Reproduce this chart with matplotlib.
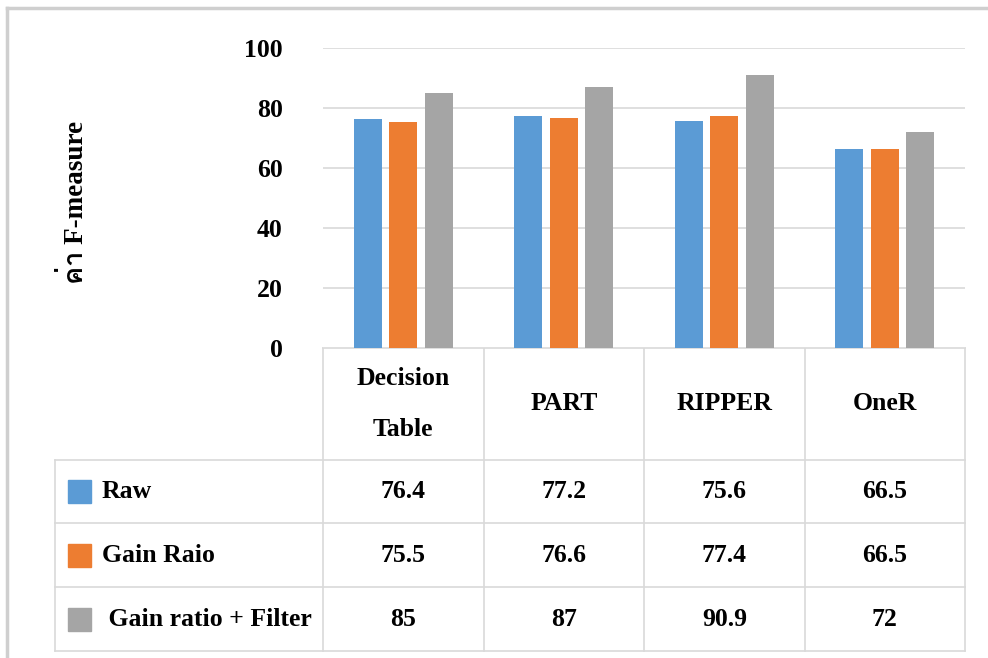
import matplotlib
matplotlib.use("Agg")
import matplotlib.pyplot as plt
from matplotlib import font_manager, ft2font
from matplotlib.patches import Rectangle
import numpy as np

categories = ["Decision\nTable", "PART", "RIPPER", "OneR"]
series_names = ["Raw", "Gain Raio", " Gain ratio + Filter"]
raw = [76.4, 77.2, 75.6, 66.5]
gain_raio = [75.5, 76.6, 77.4, 66.5]
gain_filter = [85, 87, 90.9, 72]
raw_labels = ["76.4", "77.2", "75.6", "66.5"]
gain_raio_labels = ["75.5", "76.6", "77.4", "66.5"]
gain_filter_labels = ["85", "87", "90.9", "72"]
yticks = [0, 20, 40, 60, 80, 100]
ylabel = "ค่า F-measure"

colors = ["#5B9BD5", "#ED7D31", "#A5A5A5"]
grid_c = "#D9D9D9"
serif = "Liberation Serif"

# find a font with Thai glyphs
thai_family = None
for f in font_manager.fontManager.ttflist:
    try:
        cm = ft2font.FT2Font(f.fname).get_charmap()
        if 0x0E04 in cm and 0x0E48 in cm:
            thai_family = f.name
            break
    except Exception:
        pass
label_family = [serif] + ([thai_family] if thai_family else []) + ["DejaVu Sans"]

W, H = 988, 658
fig = plt.figure(figsize=(W / 100, H / 100), dpi=100)

# pixel layout
x0, x1 = 323, 965
y_top, y_bot = 48, 348
tbl_left = 55
row_lines = [348, 460, 523, 587, 651]
fs = 18.5

ax = fig.add_axes([x0 / W, 1 - y_bot / H, (x1 - x0) / W, (y_bot - y_top) / H])
n = len(categories)
x = np.arange(n)
bw = 0.175
step = 0.22
series = [raw, gain_raio, gain_filter]
for i, (vals, c) in enumerate(zip(series, colors)):
    ax.bar(x + (i - 1) * step, vals, width=bw, color=c, zorder=3)
ax.set_xlim(-0.5, n - 0.5)
ax.set_ylim(0, 100)
ax.set_yticks(yticks)
ax.set_yticklabels([str(t) for t in yticks], fontfamily=serif, fontweight="bold", fontsize=fs)
ax.tick_params(axis="y", length=0, pad=29)
ax.set_xticks([])
ax.grid(axis="y", color=grid_c, linewidth=1.2, zorder=0)
for s in ax.spines.values():
    s.set_visible(False)

# overlay axes in pixel coords for table & frame
ov = fig.add_axes([0, 0, 1, 1], zorder=-1)
ov.set_xlim(0, W)
ov.set_ylim(H, 0)
ov.axis("off")

# outer frame
ov.plot([7, 7], [8, H], color="#CFCFCF", lw=2.5)
ov.plot([7, W], [8, 8], color="#CFCFCF", lw=2.5)

lc = "#D9D9D9"
colw = (x1 - x0) / n
col_edges = [x0 + k * colw for k in range(n + 1)]
# horizontal lines
ov.plot([x0, x1], [row_lines[0], row_lines[0]], color=lc, lw=1.2)
for yl in row_lines[1:]:
    ov.plot([tbl_left, x1], [yl, yl], color=lc, lw=1.2)
# vertical lines
for xe in col_edges:
    ov.plot([xe, xe], [row_lines[0], row_lines[-1]], color=lc, lw=1.2)
ov.plot([tbl_left, tbl_left], [row_lines[1], row_lines[-1]], color=lc, lw=1.2)

# header
for k, cat in enumerate(categories):
    cx = (col_edges[k] + col_edges[k + 1]) / 2
    cy = (row_lines[0] + row_lines[1]) / 2
    ov.text(cx, cy, cat, ha="center", va="center", fontfamily=serif,
            fontweight="bold", fontsize=fs, linespacing=2.6)

labels = [raw_labels, gain_raio_labels, gain_filter_labels]
for r in range(3):
    cy = (row_lines[r + 1] + row_lines[r + 2]) / 2
    ov.add_patch(Rectangle((68, cy - 11.5), 23, 23, color=colors[r]))
    ov.text(102, cy, series_names[r], ha="left", va="center", fontfamily=serif,
            fontweight="bold", fontsize=fs)
    for k in range(n):
        cx = (col_edges[k] + col_edges[k + 1]) / 2
        ov.text(cx, cy, labels[r][k], ha="center", va="center", fontfamily=serif,
                fontweight="bold", fontsize=fs)

fig.text(75 / W, 1 - 202 / H, ylabel, rotation=90, ha="center", va="center",
         fontfamily=label_family, fontweight="bold", fontsize=19.5)

fig.savefig("out.png", dpi=100, facecolor="white")
